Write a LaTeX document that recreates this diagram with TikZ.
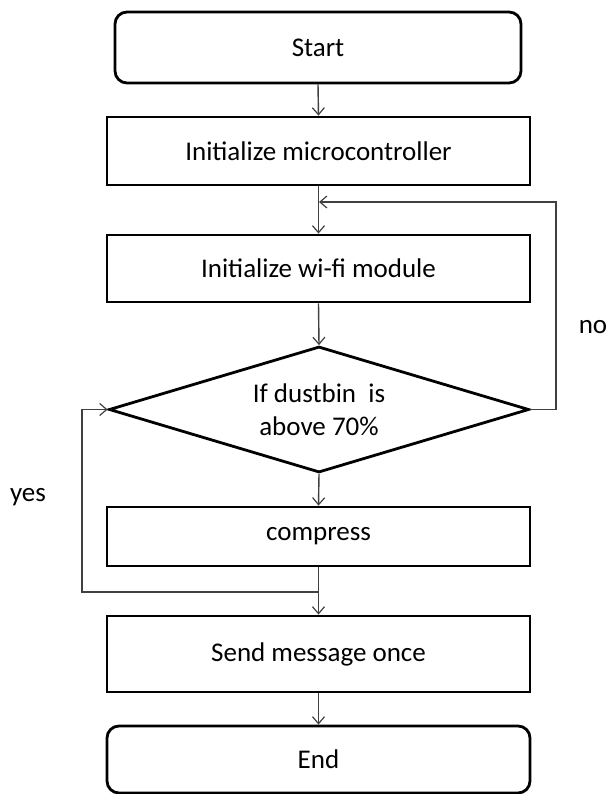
\documentclass[tikz,border=0pt]{standalone}
\usepackage{fontspec}
\setmainfont{Carlito}
\usetikzlibrary{arrows.meta,shapes.geometric}
\begin{document}
\begin{tikzpicture}[x=1pt,y=-1pt,
  every node/.style={font=\fontsize{27}{33}\selectfont, text=black},
  box/.style={draw=black, line width=2.8pt, minimum width=423pt, inner sep=0pt},
  term/.style={box, rounded corners=12pt},
  decision/.style={diamond, aspect=3.33, draw=black, line width=2.8pt, minimum width=420pt, minimum height=126pt, inner sep=0pt, align=center},
  conn/.style={draw=black!75, line width=1.4pt, -{Straight Barb[length=7pt,width=12pt,line width=1.2pt]}},
  lbl/.style={font=\fontsize{27}{33}\selectfont}
]
\useasboundingbox (0,0) rectangle (609,794);
\node[term, minimum width=406pt, minimum height=71pt] (start) at (318,47.5) {Start};
\node[box, minimum height=68pt] (micro) at (318.5,151) {Initialize microcontroller};
\node[box, minimum height=67pt] (wifi) at (318.5,268.5) {Initialize wi-fi module};
\node[decision] (dec) at (319,409.5) {If dustbin\ \ is\\above 70\%};
\node[box, minimum height=59pt] (comp) at (318.5,536.5) {compress};
\node[box, minimum height=76pt] (send) at (318.5,654) {Send message once};
\node[term, minimum height=67pt] (end) at (318.5,759.5) {End};

\coordinate (nojoin) at (319,202);
\coordinate (noR) at (556,409.5);
\coordinate (noT) at (556,202);
\coordinate (yesjoin) at (319,592);
\coordinate (yesB) at (82,592);
\coordinate (yesT) at (82,409.5);

\draw[conn] (start.south) -- (micro.north);
\draw[conn] (micro.south) -- (wifi.north);
\draw[conn] (wifi.south) -- (dec.north);
\draw[conn] (dec.south) -- (comp.north);
\draw[conn] (comp.south) -- (send.north);
\draw[conn] (send.south) -- (end.north);
\draw[conn] (dec.east) -- (noR) -- (noT) -- (nojoin);
\draw[conn] (yesjoin) -- (yesB) -- (yesT) -- (dec.west);

\node[lbl] (no) at (593,327) {no};
\node[lbl] (yes) at (28,497) {yes};
\end{tikzpicture}
\end{document}
